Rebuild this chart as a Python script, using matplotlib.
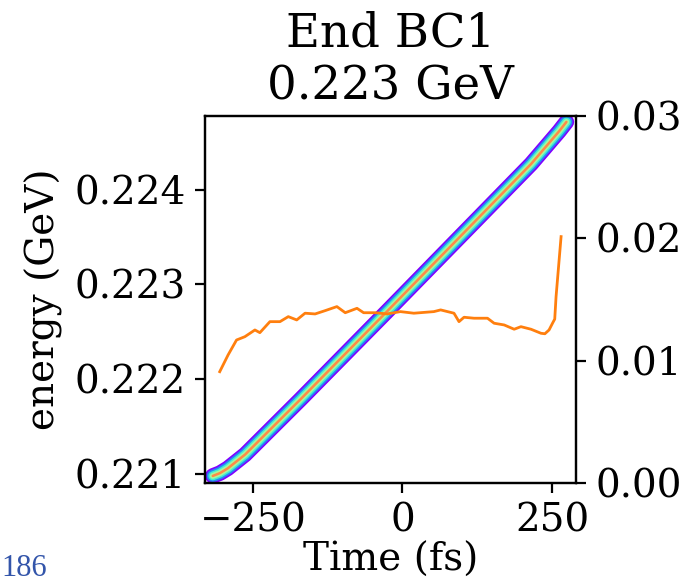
import numpy as np
import matplotlib
matplotlib.use("Agg")
import matplotlib.pyplot as plt

plt.rcParams['font.family'] = 'serif'
plt.rcParams['font.size'] = 14

# centre line of the phase-space band (time in fs, energy in GeV)
band_t = [-317, -305, -292, -263, -171, -28, 114, 215, 262, 274]
band_e = [0.220975, 0.221005, 0.221055, 0.221201, 0.221781, 0.222700,
          0.223619, 0.224273, 0.224620, 0.224717]

# current profile on the right axis
cur_t = [-305.4, -291.4, -277.3, -263.4, -246.6, -238.3, -221.5, -204.7,
         -190.8, -176.7, -162.8, -146.0, -129.2, -109.6, -95.6, -76.0,
         -64.9, -45.3, -25.7, -3.4, 19.0, 52.5, 63.8, 86.1, 94.5, 102.9,
         119.6, 142.1, 153.2, 170.0, 186.7, 198.0, 214.8, 231.5, 238.0,
         245.0, 251.2, 254.5, 256.7, 265.1]
cur_i = [0.00910, 0.01047, 0.01169, 0.01196, 0.01251, 0.01229, 0.01319,
         0.01319, 0.01360, 0.01333, 0.01388, 0.01382, 0.01409, 0.01442,
         0.01392, 0.01428, 0.01392, 0.01392, 0.01382, 0.01401, 0.01388,
         0.01401, 0.01415, 0.01388, 0.01319, 0.01355, 0.01347, 0.01347,
         0.01306, 0.01292, 0.01257, 0.01278, 0.01257, 0.01224, 0.01220,
         0.01251, 0.01310, 0.01340, 0.01523, 0.02014]

fig = plt.figure(figsize=(3.435, 2.92), dpi=200)
ax = fig.add_axes([0.2984, 0.1729, 0.5400, 0.6285])

# density band drawn as nested strokes with rainbow colours
levels = [0.0, 0.18, 0.38, 0.58, 0.82]
widths = [5.6, 4.4, 3.2, 2.1, 0.9]
for lv, w in zip(levels, widths):
    ax.plot(band_t, band_e, color=plt.cm.rainbow(lv), lw=w,
            solid_capstyle='round', solid_joinstyle='round')

ax.set_xlim(-330, 290)
ax.set_ylim(0.22090, 0.22478)
ax.set_xticks([-250, 0, 250])
ax.set_yticks([0.221, 0.222, 0.223, 0.224])
ax.set_xlabel('Time (fs)', labelpad=1)
ax.set_ylabel('energy (GeV)')
ax.set_title('End BC1\n0.223 GeV')

ax2 = ax.twinx()
ax2.plot(cur_t, cur_i, color='C1', lw=1.0)
ax2.set_ylim(0, 0.03)
ax2.set_yticks([0, 0.01, 0.02, 0.03])
ax2.set_yticklabels(['0.00', '0.01', '0.02', '0.03'])

fig.text(0.002, 0.002, '186', color='#3355aa', fontsize=11,
         family='Liberation Serif', va='bottom', ha='left')

fig.savefig('out.png', dpi=200)
